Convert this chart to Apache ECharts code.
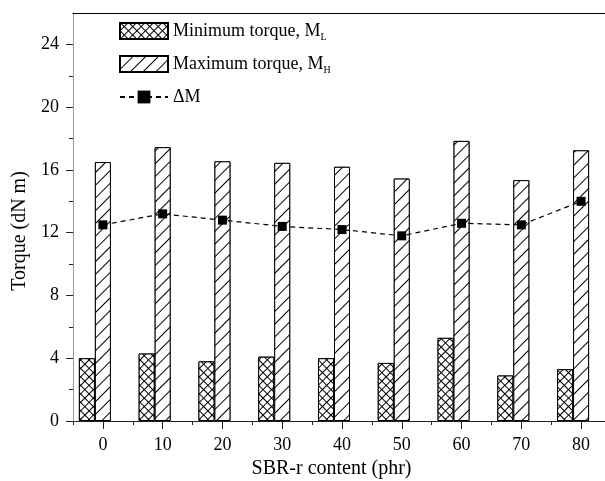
<!DOCTYPE html>
<html>
<head>
<meta charset="utf-8">
<script src="https://cdn.jsdelivr.net/npm/echarts@6/dist/echarts.min.js"></script>
<style>
  html, body { margin: 0; padding: 0; background: #fff; }
  #main { width: 605px; height: 481px; }
</style>
</head>
<body>
<div id="main"></div>
<script>
// SBR-r content (phr)
var content = [0, 10, 20, 30, 40, 50, 60, 70, 80];
var minorTicks = [-5, 5, 15, 25, 35, 45, 55, 65, 75];
// torque values (dN m)
var minTorque = [4.0, 4.3, 3.8, 4.1, 4.0, 3.7, 5.3, 2.9, 3.3];
var maxTorque = [16.5, 17.45, 16.55, 16.45, 16.2, 15.45, 17.85, 15.35, 17.25];
var deltaM = [12.5, 13.2, 12.8, 12.4, 12.2, 11.8, 12.6, 12.5, 14.0];
var yTicks = [0, 4, 8, 12, 16, 20, 24];
var yMinorTicks = [2, 6, 10, 14, 18, 22];

var font = "Liberation Serif";

var myChart = echarts.init(document.getElementById("main"));

function pairs(vals) {
  return content.map(function (x, i) {
    return [x, vals == null ? "-" : vals[i]];
  });
}

var option = {
  animation: false,
  textStyle: { fontFamily: font, color: "#000" },
  grid: { left: 73, right: 0, top: 13, bottom: 60, containLabel: false, outerBoundsMode: "none" },
  legend: {
    orient: "vertical",
    left: 114,
    top: 17,
    itemWidth: 48,
    itemHeight: 16,
    itemGap: 13,
    data: [
      { name: "ML", icon: "rect" },
      { name: "MH", icon: "rect" },
      { name: "dM" },
    ],
    formatter: function (name) {
      if (name === "ML") return "Minimum torque, M{sub|L}";
      if (name === "MH") return "Maximum torque, M{sub|H}";
      return "\u0394M";
    },
    textStyle: {
      fontFamily: font,
      fontSize: 18,
      color: "#000",
      rich: {
        sub: { fontFamily: font, fontSize: 10, color: "#000", padding: [12, 0, 0, 0] },
      },
    },
  },
  xAxis: [
    {
      type: "value",
      min: -5,
      max: 84,
      name: "SBR-r content (phr)",
      nameLocation: "middle",
      nameGap: 33,
      nameTextStyle: { fontFamily: font, fontSize: 20, color: "#000", padding: [0, 15, 0, 0] },
      splitLine: { show: false },
      axisLine: { onZero: false, lineStyle: { color: "#222", width: 1 } },
      axisTick: { customValues: content, length: 8, lineStyle: { color: "#222" } },
      axisLabel: { customValues: content, fontFamily: font, fontSize: 18, color: "#000", margin: 15 },
    },
    {
      // minor ticks
      type: "value",
      min: -5,
      max: 84,
      position: "bottom",
      splitLine: { show: false },
      axisLine: { show: false, onZero: false },
      axisTick: { customValues: minorTicks, length: 4, lineStyle: { color: "#222" } },
      axisLabel: { show: false },
    },
    {
      // top frame line
      type: "value",
      min: -5,
      max: 84,
      position: "top",
      splitLine: { show: false },
      axisLine: { onZero: false, lineStyle: { color: "#000", width: 1 } },
      axisTick: { show: false },
      axisLabel: { show: false },
    },
  ],
  yAxis: [
    {
      type: "value",
      min: 0,
      max: 26,
      name: "Torque (dN m)",
      nameLocation: "middle",
      nameGap: 28,
      nameTextStyle: { fontFamily: font, fontSize: 20, color: "#000", padding: [0, 28, 0, 0] },
      splitLine: { show: false },
      axisLine: { show: true, onZero: false, lineStyle: { color: "#999", width: 1 } },
      axisTick: { customValues: yTicks, length: 7, lineStyle: { color: "#222" } },
      axisLabel: { customValues: yTicks, fontFamily: font, fontSize: 18, color: "#000", margin: 14 },
    },
    {
      // minor ticks
      type: "value",
      min: 0,
      max: 26,
      position: "left",
      splitLine: { show: false },
      axisLine: { show: false, onZero: false },
      axisTick: { customValues: yMinorTicks, length: 4, lineStyle: { color: "#222" } },
      axisLabel: { show: false },
    },
  ],
  series: [
    {
      name: "ML",
      type: "bar",
      barWidth: 16,
      barGap: "0%",
      data: pairs(minTorque),
      itemStyle: {
        color: "#000",
        borderColor: "#000",
        borderWidth: 1,
        decal: {
          symbol: "rect",
          color: "#fff",
          backgroundColor: "#000",
          dashArrayX: [4.6, 1],
          dashArrayY: [4.6, 1],
          rotation: Math.PI / 4,
          symbolSize: 1,
        },
      },
    },
    {
      name: "MH",
      type: "bar",
      barWidth: 16,
      barGap: "0%",
      data: pairs(maxTorque),
      itemStyle: {
        color: "#fff",
        borderColor: "#000",
        borderWidth: 1,
        decal: {
          symbol: "rect",
          color: "#000",
          backgroundColor: "#fff",
          dashArrayX: [1, 0],
          dashArrayY: [1, 7.5],
          rotation: -Math.PI / 4,
          symbolSize: 1,
        },
      },
    },
    {
      // empty slot so MH sits centred on each x value
      name: "pad",
      type: "bar",
      barWidth: 16,
      barGap: "0%",
      data: pairs(null),
      itemStyle: { opacity: 0 },
    },
    {
      name: "dM",
      type: "line",
      data: pairs(deltaM),
      symbol: "rect",
      symbolSize: 9,
      itemStyle: { color: "#000" },
      lineStyle: { color: "#000", width: 1.2, type: [5, 4] },
      z: 5,
    },
  ],
};

option && myChart.setOption(option);
</script>
</body>
</html>
